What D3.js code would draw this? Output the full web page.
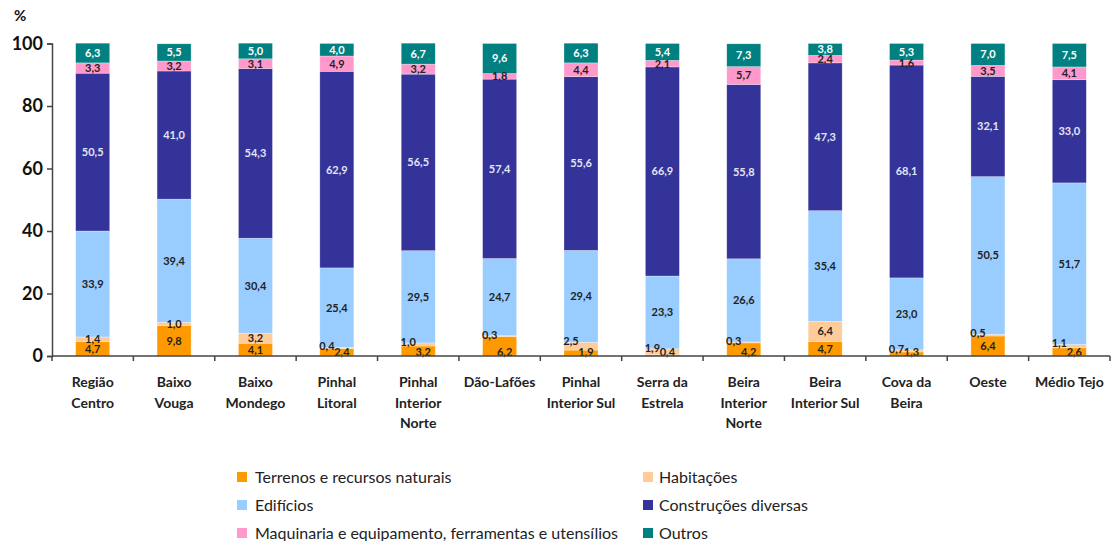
<!DOCTYPE html>
<html>
<head>
<meta charset="utf-8">
<script src="https://cdn.jsdelivr.net/npm/d3@7"></script>
<style>
  body { margin: 0; background: #fff; }
  svg { font-family: Lato, "Open Sans", sans-serif; }
</style>
</head>
<body>
<div id="chart"></div>
<script>
const regions = [
  ['Região', 'Centro'], ['Baixo', 'Vouga'], ['Baixo', 'Mondego'], ['Pinhal', 'Litoral'],
  ['Pinhal', 'Interior', 'Norte'], ['Dão-Lafões'], ['Pinhal', 'Interior Sul'],
  ['Serra da', 'Estrela'], ['Beira', 'Interior', 'Norte'], ['Beira', 'Interior Sul'],
  ['Cova da', 'Beira'], ['Oeste'], ['Médio Tejo']
];
const seriesNames = [
  'Terrenos e recursos naturais', 'Habitações', 'Edifícios',
  'Construções diversas', 'Maquinaria e equipamento, ferramentas e utensílios', 'Outros'
];
const terrenos    = [4.7, 9.8, 4.1, 2.4, 3.2, 6.2, 1.9, 0.4, 4.2, 4.7, 1.3, 6.4, 2.6];
const habitacoes  = [1.4, 1.0, 3.2, 0.4, 1.0, 0.3, 2.5, 1.9, 0.3, 6.4, 0.7, 0.5, 1.1];
const edificios   = [33.9, 39.4, 30.4, 25.4, 29.5, 24.7, 29.4, 23.3, 26.6, 35.4, 23.0, 50.5, 51.7];
const construcoes = [50.5, 41.0, 54.3, 62.9, 56.5, 57.4, 55.6, 66.9, 55.8, 47.3, 68.1, 32.1, 33.0];
const maquinaria  = [3.3, 3.2, 3.1, 4.9, 3.2, 1.8, 4.4, 2.1, 5.7, 2.4, 1.6, 3.5, 4.1];
const outros      = [6.3, 5.5, 5.0, 4.0, 6.7, 9.6, 6.3, 5.4, 7.3, 3.8, 5.3, 7.0, 7.5];
const yTicks = [0, 20, 40, 60, 80, 100];

const colors = ['#ff9900', '#ffcc99', '#99ccff', '#333399', '#ff99cc', '#008080'];
const labelColors = ['#222', '#222', '#222', '#e4e4f4', '#222', '#fff'];
const series = [terrenos, habitacoes, edificios, construcoes, maquinaria, outros];

const W = 1119, H = 541;
const svg = d3.select('#chart').append('svg').attr('width', W).attr('height', H);

const x = d3.scaleBand().domain(d3.range(regions.length)).range([52, 1110]);
const y = d3.scaleLinear().domain([0, 100]).range([356, 43.5]);
const barW = 34;

// stacked rows
const rows = regions.map((r, i) => {
  const o = {};
  series.forEach((s, k) => { o[k] = s[i]; });
  return o;
});
const stack = d3.stack().keys(d3.range(series.length))(rows);

const bars = svg.append('g');
stack.forEach((layer, k) => {
  bars.selectAll(null)
    .data(layer)
    .enter()
    .append('rect')
      .attr('x', (d, i) => x(i) + x.bandwidth() / 2 - barW / 2)
      .attr('y', d => y(d[1]))
      .attr('width', barW)
      .attr('height', d => y(d[0]) - y(d[1]))
      .attr('fill', colors[k])
      .attr('stroke', 'rgba(255,255,255,0.45)')
      .attr('stroke-width', 0.6);
});

// value labels
const fmt = v => v.toFixed(1).replace('.', ',');
const crowded = i => (habitacoes[i] < 1.2 && terrenos[i] < 9) || terrenos[i] < 3;
const labels = svg.append('g')
  .attr('font-size', 11)
  .attr('font-weight', 'bold')
  .attr('text-anchor', 'middle');
stack.forEach((layer, k) => {
  labels.selectAll(null)
    .data(layer)
    .enter()
    .append('text')
      .attr('x', (d, i) => {
        const cx = x(i) + x.bandwidth() / 2;
        if (!crowded(i)) return cx;
        if (k === 1) return cx - 10;
        if (k === 0 && terrenos[i] < 6.3) return cx + 5;
        return cx;
      })
      .attr('y', (d, i) => {
        if (crowded(i) && k === 1) return y(d[1]) - 1;
        if (crowded(i) && k === 0 && terrenos[i] < 6.3) return y(0) - 4;
        return y((d[0] + d[1]) / 2);
      })
      .attr('dy', '0.36em')
      .attr('fill', labelColors[k])
      .text((d, i) => fmt(series[k][i]));
});

// y axis
const yAxis = svg.append('g')
  .attr('transform', 'translate(52,0)')
  .call(d3.axisLeft(y).tickValues(yTicks).tickSize(5).tickPadding(4));
yAxis.select('.domain').attr('stroke', '#444').attr('stroke-width', 1.5);
yAxis.selectAll('.tick line').attr('stroke', '#444').attr('stroke-width', 1.5);
yAxis.selectAll('.tick text')
  .attr('font-family', 'Lato, sans-serif')
  .attr('font-size', 18)
  .attr('font-weight', 'bold')
  .attr('fill', '#111');

svg.append('text')
  .attr('x', 14).attr('y', 21)
  .attr('font-size', 15).attr('font-weight', 'bold').attr('fill', '#111')
  .text('%');

// x axis with ticks at band edges
const xAxis = svg.append('g');
xAxis.append('line')
  .attr('x1', 52).attr('x2', 1110)
  .attr('y1', y(0)).attr('y2', y(0))
  .attr('stroke', '#444').attr('stroke-width', 1.5);
const edges = d3.range(regions.length).map(i => x(i)).concat([x.range()[1]]);
xAxis.selectAll(null)
  .data(edges)
  .enter()
  .append('line')
    .attr('x1', d => d).attr('x2', d => d)
    .attr('y1', y(0)).attr('y2', y(0) + 5)
    .attr('stroke', '#444').attr('stroke-width', 1.5);

const xl = svg.append('g')
  .attr('font-size', 14)
  .attr('font-weight', 'bold')
  .attr('fill', '#222')
  .attr('text-anchor', 'middle');
regions.forEach((lines, i) => {
  const t = xl.append('text')
    .attr('x', x(i) + x.bandwidth() / 2)
    .attr('y', 387);
  lines.forEach((ln, j) => {
    t.append('tspan')
      .attr('x', x(i) + x.bandwidth() / 2)
      .attr('dy', j === 0 ? 0 : 20.5)
      .text(ln);
  });
});

// legend
const legendPos = [[237, 477], [643, 477], [237, 505], [643, 505], [237, 533], [643, 533]];
const legend = svg.append('g').attr('font-size', 16).attr('fill', '#222');
seriesNames.forEach((name, k) => {
  const [lx, ly] = legendPos[k];
  legend.append('rect')
    .attr('x', lx).attr('y', ly - 5)
    .attr('width', 10).attr('height', 10)
    .attr('fill', colors[k]);
  legend.append('text')
    .attr('x', lx + (k % 2 === 0 ? 18 : 16))
    .attr('y', ly)
    .attr('dy', '0.35em')
    .text(name);
});
</script>
</body>
</html>
